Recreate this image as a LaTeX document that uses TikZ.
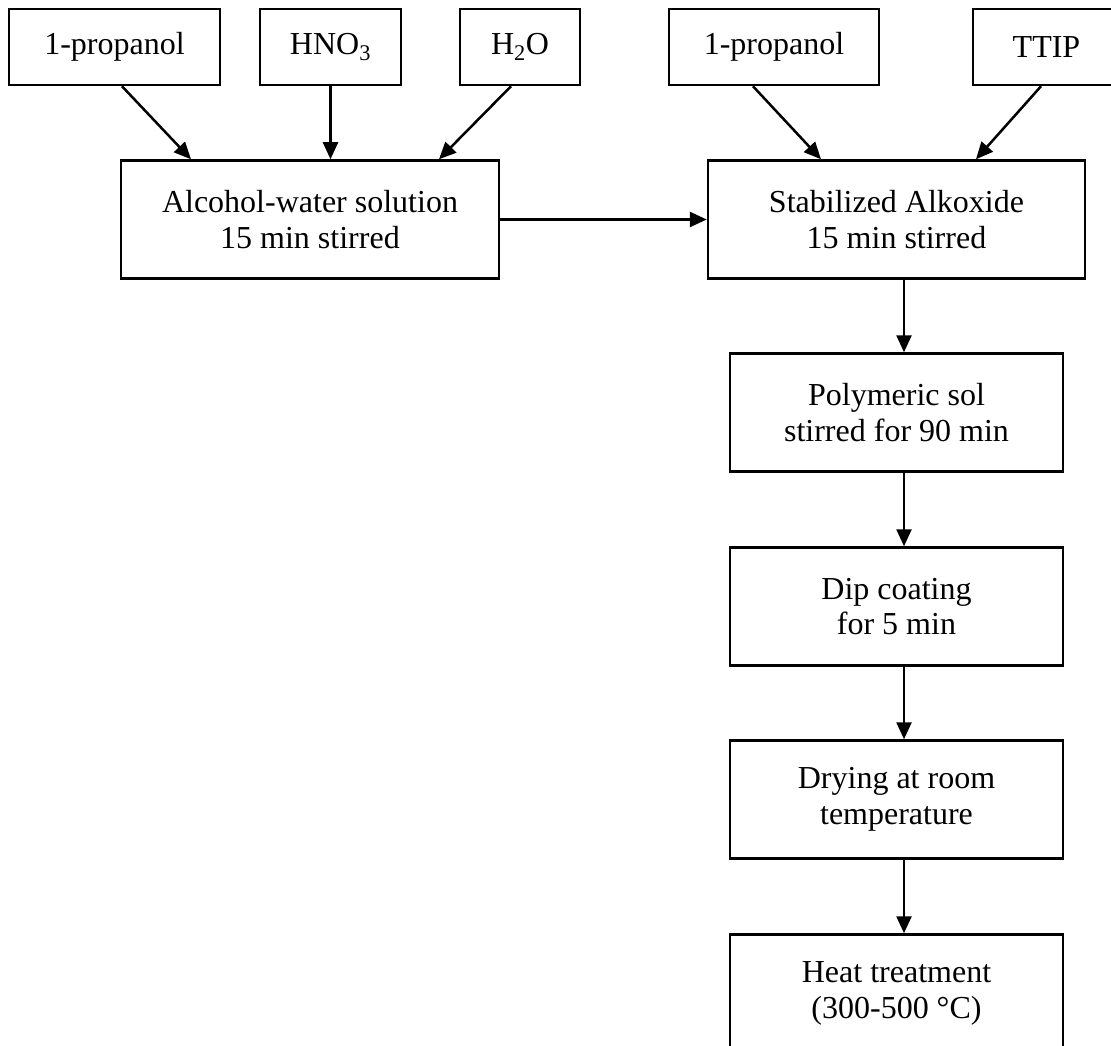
\documentclass[tikz,border=0pt]{standalone}
\usepackage{fontspec}
\setmainfont{Liberation Serif}
\usetikzlibrary{arrows.meta}

\begin{document}
\begin{tikzpicture}[x=1pt, y=-1pt,
		stepbox/.style={draw, line width=2.5pt, inner sep=0pt, align=center, font=\fontsize{32}{35.5}\selectfont},
		feed/.style={stepbox, minimum height=76pt},
		stage/.style={stepbox, minimum height=118pt},
		flow/.style={line width=2.5pt, -{Triangle[length=17pt, width=15pt]}}]
		\clip (0, 0) rectangle (1111, 1046);
		% raw materials
		\node[feed, minimum width=211pt] (prop1) at (114.5, 47) {1-propanol};
		\node[feed, minimum width=141pt] (hno) at (330.5, 47) {HNO\textsubscript{3}};
		\node[feed, minimum width=120pt] (water) at (520, 47) {H\textsubscript{2}O};
		\node[feed, minimum width=210pt] (prop2) at (774, 47) {1-propanol};
		\node[feed, minimum width=147pt] (ttip) at (1046.5, 47) {TTIP};
		% process steps
		\node[stage, minimum width=378pt] (alcohol) at (310, 219.5) {Alcohol-water solution\\15 min stirred};
		\node[stage, minimum width=377pt] (stab) at (896.5, 219.5) {Stabilized Alkoxide\\15 min stirred};
		\node[stage, minimum width=333pt] (poly) at (896.5, 412.5) {Polymeric sol\\stirred for 90 min};
		\node[stage, minimum width=333pt] (dip) at (896.5, 606.5) {Dip coating\\for 5 min};
		\node[stage, minimum width=333pt] (dry) at (896.5, 799.5) {Drying at room\\temperature};
		\node[stage, minimum width=333pt] (heat) at (896.5, 993.5) {Heat treatment\\(300-500 °C)};
		% arrows
		\draw[flow] ([xshift=7.5pt]prop1.south) -- ([xshift=-119pt]alcohol.north);
		\draw[flow] (hno.south) -- (hno.south |- alcohol.north);
		\draw[flow] ([xshift=-9pt]water.south) -- ([xshift=129pt]alcohol.north);
		\draw[flow] ([xshift=-21pt]prop2.south) -- ([xshift=-75.5pt]stab.north);
		\draw[flow] ([xshift=-5.5pt]ttip.south) -- ([xshift=79.5pt]stab.north);
		\draw[flow] (alcohol.east) -- (stab.west);
		\foreach \a/\b in {stab/poly, poly/dip, dip/dry, dry/heat}
			\draw[flow] ([xshift=7.5pt]\a.south) -- ([xshift=7.5pt]\b.north);
	\end{tikzpicture}
\end{document}
